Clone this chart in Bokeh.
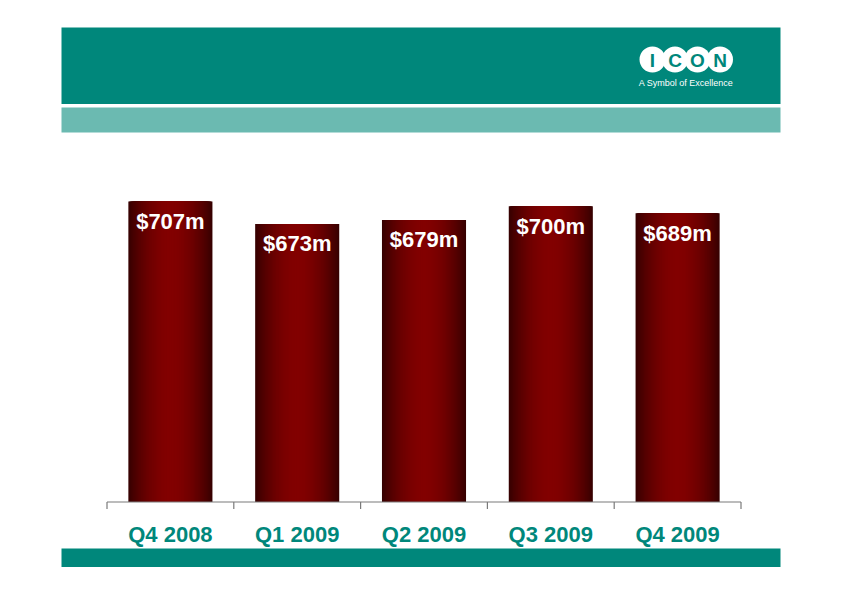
import numpy as np
from bokeh.plotting import figure
from bokeh.models import Range1d, ColumnDataSource
from bokeh.core.properties import value
from bokeh.embed import file_html
from bokeh.resources import INLINE

# ---------------- data ----------------
categories = ["Q4 2008", "Q1 2009", "Q2 2009", "Q3 2009", "Q4 2009"]
revenue = [707, 673, 679, 700, 689]
bar_labels = ["$707m", "$673m", "$679m", "$700m", "$689m"]
axis_min = 250

# ---------------- layout (pixels) ----------------
W, H = 842, 595
AX_LEFT, AX_RIGHT = 106.5, 740.5      # pixel extent of the category axis
AX_BASE = 501.5                       # pixel y of the axis line
PX_PER_UNIT = 0.6575                  # vertical scale
n = len(categories)
step = (AX_RIGHT - AX_LEFT) / n

x_start = -0.5 - AX_LEFT / step
x_end = n - 0.5 + (W - AX_RIGHT) / step
y_end = axis_min + AX_BASE / PX_PER_UNIT
y_start = axis_min - (H - AX_BASE) / PX_PER_UNIT

TEAL = "#00877B"
LIGHT_TEAL = "#6BBAB1"
FONT = "Liberation Sans"

p = figure(width=W, height=H, x_range=Range1d(x_start, x_end),
           y_range=Range1d(y_start, y_end), output_backend="svg",
           toolbar_location=None, min_border=0, x_axis_type=None,
           y_axis_type=None, background_fill_color="white",
           border_fill_color="white", outline_line_color=None)
p.grid.visible = False
p.extra_x_ranges = {"px": Range1d(0, W)}
p.extra_y_ranges = {"px": Range1d(H, 0)}

# ---------------- slide decoration ----------------
p.quad(left=[61], right=[780], top=[27], bottom=[103.5], fill_color=TEAL,
       line_color=None, x_range_name="px", y_range_name="px")
p.quad(left=[61], right=[780], top=[107], bottom=[132], fill_color=LIGHT_TEAL,
       line_color=None, x_range_name="px", y_range_name="px")
p.quad(left=[61], right=[780], top=[548], bottom=[566.5], fill_color=TEAL,
       line_color=None, x_range_name="px", y_range_name="px")

# logo
logo_letters = ["I", "C", "O", "N"]
logo_x = [652, 674.5, 697, 719.5]
p.scatter(x=logo_x, y=[59] * 4, size=26, marker="circle", fill_color="white",
          line_color=None, x_range_name="px", y_range_name="px")
p.text(x=logo_x, y=[59.5] * 4, text=logo_letters, text_color=TEAL,
       text_font=value(FONT), text_font_style="bold", text_font_size="19px",
       text_align="center", text_baseline="middle",
       x_range_name="px", y_range_name="px")
p.text(x=[685.5], y=[82], text=["A Symbol of Excellence"], text_color="white",
       text_font=value(FONT), text_font_size="9px", text_align="center",
       text_baseline="middle", x_range_name="px", y_range_name="px")

# ---------------- bars with horizontal gradient (nested layers) ----------------
bar_w = 0.663
N_LAYERS = 40
dark = np.array([0x36, 0x00, 0x00])
bright = np.array([0x82, 0x00, 0x00])
xs, tops, colors, widths = [], [], [], []
for j in range(N_LAYERS):
    frac = 1 - j / N_LAYERS                  # width fraction of this layer
    t = (1 - frac) / 2                        # position of its edge (0..0.5)
    f = np.sin(np.pi * t) ** 0.85
    c = dark + (bright - dark) * f
    col = "#%02x%02x%02x" % tuple(int(round(a)) for a in c)
    for i, v in enumerate(revenue):
        xs.append(i)
        tops.append(v)
        colors.append(col)
        widths.append(bar_w * frac)
src = ColumnDataSource(dict(x=xs, top=tops, color=colors, w=widths))
p.vbar(x="x", top="top", bottom=axis_min, width="w", source=src,
       fill_color="color", line_color=None)

# value labels inside the bars
p.text(x=list(range(n)), y=revenue, text=bar_labels, text_color="white",
       text_font=value(FONT), text_font_style="bold", text_font_size="22px",
       text_align="center", text_baseline="middle", y_offset=20)

# ---------------- category axis (drawn in data coords) ----------------
AXIS_COLOR = "#7a7a7a"
p.segment(x0=[-0.5], y0=[axis_min], x1=[n - 0.5], y1=[axis_min],
          line_color=AXIS_COLOR, line_width=1.2)
tick_pos = [i - 0.5 for i in range(n + 1)]
tick_len = 7 / PX_PER_UNIT
p.segment(x0=tick_pos, y0=[axis_min] * (n + 1), x1=tick_pos,
          y1=[axis_min - tick_len] * (n + 1), line_color=AXIS_COLOR,
          line_width=1.2)
p.text(x=list(range(n)), y=[axis_min] * n, text=categories, text_color=TEAL,
       text_font=value(FONT), text_font_style="bold", text_font_size="22px",
       text_align="center", text_baseline="middle", y_offset=32)

open("out.html", "w").write(file_html(p, INLINE))
